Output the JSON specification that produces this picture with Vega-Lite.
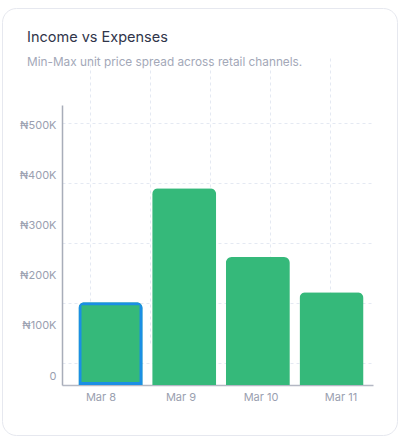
{
  "$schema": "https://vega.github.io/schema/vega-lite/v6.json",
  "width": 395,
  "height": 427,
  "autosize": "none",
  "padding": {"left": 2, "top": 8, "right": 5, "bottom": 5},
  "background": "white",
  "view": {"stroke": "#e6e8ef", "strokeWidth": 1, "cornerRadius": 14, "fill": "white"},
  "title": {
    "text": "Income vs Expenses",
    "subtitle": "Min-Max unit price spread across retail channels.",
    "anchor": "start",
    "frame": "group",
    "orient": "top",
    "offset": -62,
    "dx": 25,
    "font": "Inter",
    "fontSize": 14.5,
    "fontWeight": "normal",
    "color": "#30354a",
    "subtitleFont": "Inter",
    "subtitleFontSize": 11.8,
    "subtitleColor": "#a3a8b8",
    "subtitlePadding": 12
  },
  "data": {
    "values": [
      {"date": "Mar 8", "value": 165000, "selected": true},
      {"date": "Mar 9", "value": 392000, "selected": false},
      {"date": "Mar 10", "value": 255000, "selected": false},
      {"date": "Mar 11", "value": 185000, "selected": false}
    ]
  },
  "layer": [
    {
      "mark": {"type": "point", "opacity": 0},
      "encoding": {
        "x": {
          "field": "value", "type": "quantitative",
          "scale": {"domain": [-46667, 471667], "range": [60, 371], "nice": false, "zero": false},
          "axis": {"orient": "bottom", "offset": -50, "labels": false, "ticks": false, "domain": true,
                   "domainColor": "#b4b8c4", "domainWidth": 1.5, "grid": true, "gridColor": "#e4e9f2",
                   "gridDash": [3, 3], "values": [0, 100000, 200000, 300000, 400000], "title": null}
        },
        "y": {
          "field": "value", "type": "quantitative",
          "scale": {"domain": [0, 560000], "range": [377, 92], "nice": false},
          "axis": null
        }
      }
    },
    {
      "mark": {"type": "point", "opacity": 0},
      "encoding": {
        "x": {
          "field": "value", "type": "quantitative",
          "scale": {"domain": [0, 500000], "range": [60, 371], "nice": false},
          "axis": null
        },
        "y": {
          "field": "value", "type": "quantitative",
          "scale": {"domain": [0, 400000], "range": [355, 115], "nice": false},
          "axis": {"orient": "left", "offset": -60, "labels": false, "ticks": false, "domain": false,
                   "grid": true, "gridColor": "#e4e9f2", "gridDash": [3, 3],
                   "values": [0, 100000, 200000, 300000, 400000], "title": null}
        }
      }
    },
    {
      "mark": {"type": "point", "opacity": 0},
      "encoding": {
        "x": {
          "field": "date", "type": "nominal", "sort": null,
          "scale": {"type": "band", "range": [59, 379], "paddingInner": 0, "paddingOuter": 0},
          "axis": {"orient": "bottom", "offset": -50, "domain": false, "ticks": false, "grid": false,
                   "labelAngle": 0, "labelPadding": 6, "labelFont": "Inter", "labelFontSize": 11,
                   "labelColor": "#9aa0b0", "title": null}
        }
      }
    },
    {
      "mark": {"type": "bar", "fill": "#35b97a", "strokeWidth": 6, "strokeJoin": "round", "cornerRadiusTopLeft": 6,
               "cornerRadiusTopRight": 6, "y2Offset": -3},
      "encoding": {
        "x": {
          "field": "date", "type": "nominal", "sort": null,
          "scale": {"type": "band", "range": [76.5, 361.5], "paddingInner": 0.131, "paddingOuter": 0},
          "axis": null
        },
        "y": {
          "field": "value", "type": "quantitative",
          "scale": {"domain": [0, 557800], "range": [377, 97], "nice": false},
          "axis": {"orient": "left", "offset": -60, "values": [0, 100000, 200000, 300000, 400000, 500000],
                   "labelExpr": "datum.value === 0 ? '0' : '₦' + format(datum.value / 1000, 'd') + 'K'",
                   "grid": false, "ticks": false, "domain": true, "domainColor": "#a8adb9", "domainWidth": 1.5,
                   "labelOffset": -9, "labelPadding": 6, "labelFont": "Inter", "labelFontSize": 11,
                   "labelColor": "#9aa0b0", "title": null}
        },
        "stroke": {"condition": {"test": "datum.selected", "value": "#1b8fe4"}, "value": "transparent"}
      }
    }
  ],
  "resolve": {
    "scale": {"x": "independent", "y": "independent"},
    "axis": {"x": "independent", "y": "independent"}
  }
}
